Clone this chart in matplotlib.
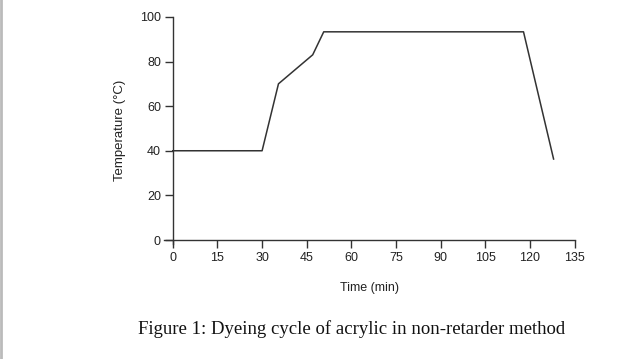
import matplotlib.pyplot as plt
from matplotlib.lines import Line2D

# dyeing cycle
time_min = [0, 30, 35.5, 47, 50.7, 117.8, 127.9]
temp_c = [40, 40, 70, 83, 93.3, 93.3, 36.3]

x_ticks = [0, 15, 30, 45, 60, 75, 90, 105, 120, 135]
y_ticks = [0, 20, 40, 60, 80, 100]

plt.rcParams['font.family'] = ['Liberation Sans', 'DejaVu Sans']

fig = plt.figure(figsize=(6.4, 3.59), dpi=100)
ax = fig.add_axes([0.256, 0.319, 0.642, 0.634])

ax.plot(time_min, temp_c, color='#333333', linewidth=1.1)

ax.set_xlim(-3, 135)
ax.set_ylim(-2, 100)
ax.set_xticks(x_ticks)
ax.set_yticks(y_ticks)

for side in ['top', 'right']:
    ax.spines[side].set_visible(False)
ax.spines['left'].set_position(('data', 0))
ax.spines['bottom'].set_position(('data', 0))
for side in ['left', 'bottom']:
    ax.spines[side].set_color('#333333')
    ax.spines[side].set_linewidth(1.0)

ax.tick_params(direction='out', length=6, width=1.0, color='#333333',
               labelsize=9, labelcolor='#222222', pad=2.5)

ax.set_xlabel('Time (min)', fontsize=9, color='#222222', labelpad=13)
ax.set_ylabel('Temperature (°C)', fontsize=9.5, color='#222222', labelpad=10)

fig.text(0.549, 0.083, 'Figure 1: Dyeing cycle of acrylic in non-retarder method',
         ha='center', va='center', fontsize=13.5, family='Liberation Serif',
         color='#111111')

# grey page edge on the left
fig.add_artist(Line2D([0.002, 0.002], [0, 1], transform=fig.transFigure,
                      color='#bbbbbb', linewidth=2))

fig.savefig('out.png', dpi=100)
